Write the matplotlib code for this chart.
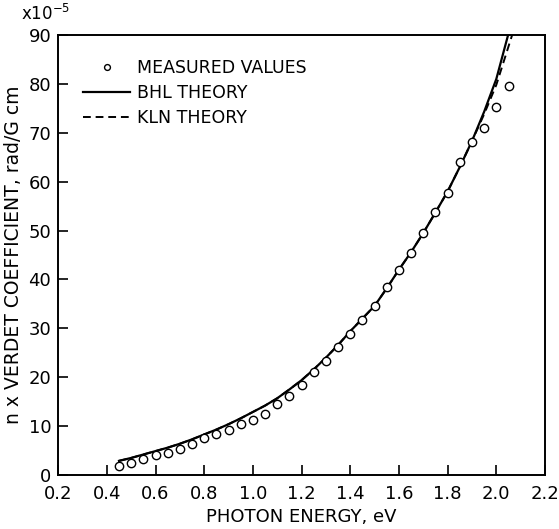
import matplotlib
matplotlib.use("Agg")
import matplotlib.pyplot as plt

# measured points (photon energy eV, verdet x 1e-5)
meas_e = [0.45, 0.50, 0.55, 0.60, 0.65, 0.70, 0.75, 0.80, 0.85, 0.90, 0.95,
          1.00, 1.05, 1.10, 1.15, 1.20, 1.25, 1.30, 1.35, 1.40, 1.45, 1.50,
          1.55, 1.60, 1.65, 1.70, 1.75, 1.80, 1.85, 1.90, 1.95, 2.00, 2.05]
meas_v = [1.9, 2.5, 3.3, 4.0, 4.6, 5.4, 6.4, 7.5, 8.3, 9.2, 10.4,
          11.2, 12.5, 14.5, 16.2, 18.4, 21.1, 23.4, 26.1, 28.8, 31.8, 34.6,
          38.4, 41.9, 45.5, 49.4, 53.7, 57.6, 64.0, 68.1, 71.0, 75.2, 79.5]

# BHL theory curve
bhl_e = [0.45, 0.50, 0.55, 0.60, 0.65, 0.70, 0.75, 0.80, 0.85, 0.90, 0.95,
         1.00, 1.05, 1.10, 1.15, 1.20, 1.25, 1.30, 1.35, 1.40, 1.45, 1.50,
         1.55, 1.60, 1.65, 1.70, 1.75, 1.80, 1.85, 1.90, 1.95, 2.00, 2.05]
bhl_v = [2.9, 3.5, 4.2, 4.9, 5.6, 6.4, 7.3, 8.3, 9.3, 10.4, 11.6,
         12.9, 14.2, 15.7, 17.5, 19.4, 21.6, 24.0, 26.6, 29.4, 32.0, 34.6,
         38.2, 42.0, 45.6, 49.5, 53.7, 58.0, 63.0, 68.3, 74.3, 81.0, 90.3]

# KLN theory curve (same as BHL except near the top)
kln_e = [0.45, 0.50, 0.55, 0.60, 0.65, 0.70, 0.75, 0.80, 0.85, 0.90, 0.95,
         1.00, 1.05, 1.10, 1.15, 1.20, 1.25, 1.30, 1.35, 1.40, 1.45, 1.50,
         1.55, 1.60, 1.65, 1.70, 1.75, 1.80, 1.85, 1.90, 1.95, 2.00, 2.065]
kln_v = [2.9, 3.5, 4.2, 4.9, 5.6, 6.4, 7.3, 8.3, 9.3, 10.4, 11.6,
         12.9, 14.2, 15.7, 17.5, 19.4, 21.6, 24.0, 26.6, 29.4, 32.0, 34.6,
         38.2, 42.0, 45.6, 49.5, 53.7, 58.0, 63.0, 68.3, 73.8, 79.8, 90.0]

xticks = [0.2, 0.4, 0.6, 0.8, 1.0, 1.2, 1.4, 1.6, 1.8, 2.0, 2.2]
xlabels = ["0.2", "0.4", "0.6", "0.8", "1.0", "1.2", "1.4", "1.6", "1.8", "2.0", "2.2"]
yticks = [0, 10, 20, 30, 40, 50, 60, 70, 80, 90]

plt.rcParams['font.family'] = ['DejaVu Sans']

fig = plt.figure(figsize=(5.59, 5.29), dpi=100)
ax = fig.add_axes([0.104, 0.102, 0.871, 0.832])

ax.plot(kln_e, kln_v, color='black', lw=1.4, ls=(0, (4, 2.5)), label='KLN THEORY', zorder=2)
ax.plot(bhl_e, bhl_v, color='black', lw=1.6, label='BHL THEORY', zorder=3)
ax.plot(meas_e, meas_v, ls='none', marker='o', ms=6, mfc='white', mec='black',
        mew=1.0, label='MEASURED VALUES', zorder=4)

ax.set_xlim(0.2, 2.2)
ax.set_ylim(0, 90)
ax.set_xticks(xticks)
ax.set_xticklabels(xlabels)
ax.set_yticks(yticks)
ax.tick_params(direction='in', length=7, width=1.2, labelsize=13, top=False, right=False)
ax.tick_params(axis='x', pad=7)
ax.tick_params(axis='y', pad=5)
for s in ax.spines.values():
    s.set_linewidth(1.4)

ax.set_xlabel("PHOTON ENERGY, eV", fontsize=13, labelpad=4)
ax.set_ylabel("n x VERDET COEFFICIENT, rad/G cm", fontsize=13.5, labelpad=4)
fig.text(0.038, 0.973, r"x10$^{-5}$", fontsize=12, va='center')

h, l = ax.get_legend_handles_labels()
ax.legend([h[2], h[1], h[0]], [l[2], l[1], l[0]], loc='upper left',
          bbox_to_anchor=(0.02, 0.98), frameon=False, fontsize=12.5,
          handlelength=2.7, handletextpad=0.4, labelspacing=0.4, markerscale=0.7)

plt.savefig('out.png', dpi=100)
